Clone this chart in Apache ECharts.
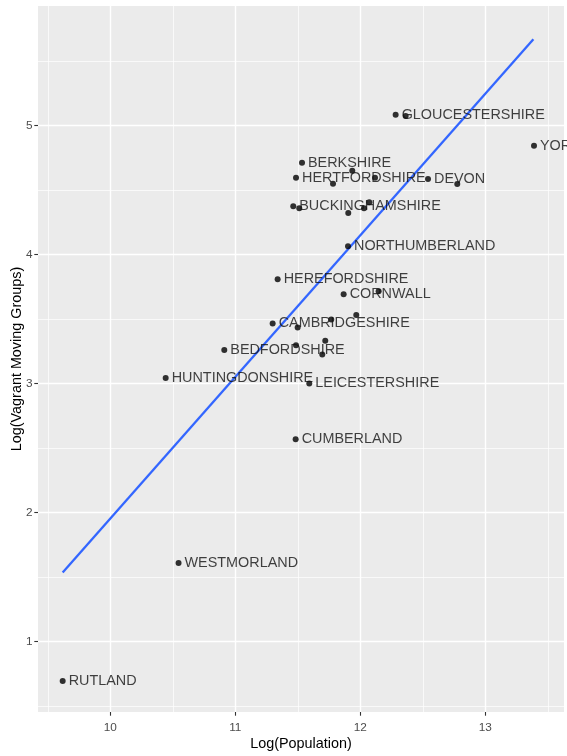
<!DOCTYPE html>
<html>
<head>
<meta charset="utf-8">
<script src="https://cdn.jsdelivr.net/npm/echarts@6/dist/echarts.min.js"></script>
<style>
html,body{margin:0;padding:0;background:#fff;}
#chart{width:567px;height:756px;}
</style>
</head>
<body>
<div id="chart"></div>
<script>
// County names ('' = unlabelled point)
var countyNames = [
  'RUTLAND','WESTMORLAND','HUNTINGDONSHIRE','BEDFORDSHIRE','CUMBERLAND','LEICESTERSHIRE',
  '','','','HEREFORDSHIRE','CORNWALL','','','','CAMBRIDGESHIRE','',
  'NORTHUMBERLAND','BUCKINGHAMSHIRE','','','','','HERTFORDSHIRE','','','DEVON','',
  'BERKSHIRE','','GLOUCESTERSHIRE','','YORKSHIRE'
];
// Log(Population)
var logPop = [
  9.619,10.546,10.443,10.912,11.483,11.592,
  11.486,11.720,11.696,11.339,11.867,12.147,11.968,11.768,11.299,11.499,
  11.902,11.464,11.512,11.904,12.030,12.072,11.486,11.782,12.118,12.542,12.776,
  11.534,11.936,12.283,12.363,13.390
];
// Log(Vagrant Moving Groups)
var logVag = [
  0.695,1.609,3.043,3.260,2.568,3.000,
  3.297,3.330,3.225,3.808,3.692,3.715,3.530,3.496,3.465,3.434,
  4.064,4.374,4.357,4.320,4.357,4.405,4.594,4.547,4.594,4.584,4.545,
  4.710,4.648,5.082,5.072,4.842
];
// fitted regression line end points
var fitX = [9.619, 13.385];
var fitY = [1.535, 5.667];
// tick labels / grid lines
var xTicks = [10, 11, 12, 13];
var yTicks = [1, 2, 3, 4, 5];
var xMinor = [9.5, 10.5, 11.5, 12.5, 13.5];
var yMinor = [0.5, 1.5, 2.5, 3.5, 4.5, 5.5];

var FONT = '"Liberation Sans", Arial, sans-serif';

var pts = [];
for (var i = 0; i < logPop.length; i++) {
  pts.push({
    name: countyNames[i],
    value: [logPop[i], logVag[i]],
    label: { show: countyNames[i] !== '' }
  });
}
var fitData = [];
for (var j = 0; j < fitX.length; j++) fitData.push([fitX[j], fitY[j]]);

var gridLines = [];
xMinor.forEach(function (v) { gridLines.push({ xAxis: v, lineStyle: { width: 0.71 } }); });
yMinor.forEach(function (v) { gridLines.push({ yAxis: v, lineStyle: { width: 0.71 } }); });
xTicks.forEach(function (v) { gridLines.push({ xAxis: v, lineStyle: { width: 1.42 } }); });
yTicks.forEach(function (v) { gridLines.push({ yAxis: v, lineStyle: { width: 1.42 } }); });

var chart = echarts.init(document.getElementById('chart'), null, { renderer: 'canvas' });
chart.setOption({
  animation: false,
  textStyle: { fontFamily: FONT },
  grid: {
    left: 38, right: 3, top: 6, bottom: 44,
    containLabel: false, outerBoundsMode: 'none',
    show: true, backgroundColor: '#EBEBEB', borderWidth: 0
  },
  xAxis: {
    type: 'value', min: 9.4216, max: 13.63,
    axisLine: { show: false },
    splitLine: { show: false },
    axisTick: { show: true, customValues: xTicks, length: 3.7, lineStyle: { color: '#333333', width: 1.1 } },
    axisLabel: { customValues: xTicks, color: '#4D4D4D', fontSize: 11.8, margin: 10, fontFamily: FONT },
    name: 'Log(Population)', nameLocation: 'middle', nameGap: 25, nameMoveOverlap: false,
    nameTextStyle: { color: '#000', fontSize: 14.4, fontFamily: FONT }
  },
  yAxis: {
    type: 'value', min: 0.454, max: 5.925,
    axisLine: { show: false },
    splitLine: { show: false },
    axisTick: { show: true, customValues: yTicks, length: 3.7, lineStyle: { color: '#333333', width: 1.1 } },
    axisLabel: { customValues: yTicks, color: '#4D4D4D', fontSize: 11.8, margin: 5.5, fontFamily: FONT },
    name: 'Log(Vagrant Moving Groups)', nameLocation: 'middle', nameGap: 14, nameMoveOverlap: false,
    nameTextStyle: { color: '#000', fontSize: 14.4, fontFamily: FONT }
  },
  series: [
    {
      type: 'line', data: [], z: 1, silent: true,
      markLine: {
        z: 1, silent: true, symbol: ['none', 'none'], animation: false,
        label: { show: false },
        lineStyle: { color: '#FFFFFF', type: 'solid' },
        emphasis: { disabled: true },
        data: gridLines
      }
    },
    {
      type: 'line', data: fitData, z: 3, showSymbol: false, silent: true,
      lineStyle: { color: '#3366FF', width: 2.3 }
    },
    {
      type: 'scatter', data: pts, z: 4, symbolSize: 6, silent: true,
      itemStyle: { color: '#000000' },
      label: {
        position: 'right', distance: 3, formatter: '{b}',
        color: '#111111', fontSize: 14.4, fontFamily: FONT
      }
    }
  ]
});
</script>
</body>
</html>
